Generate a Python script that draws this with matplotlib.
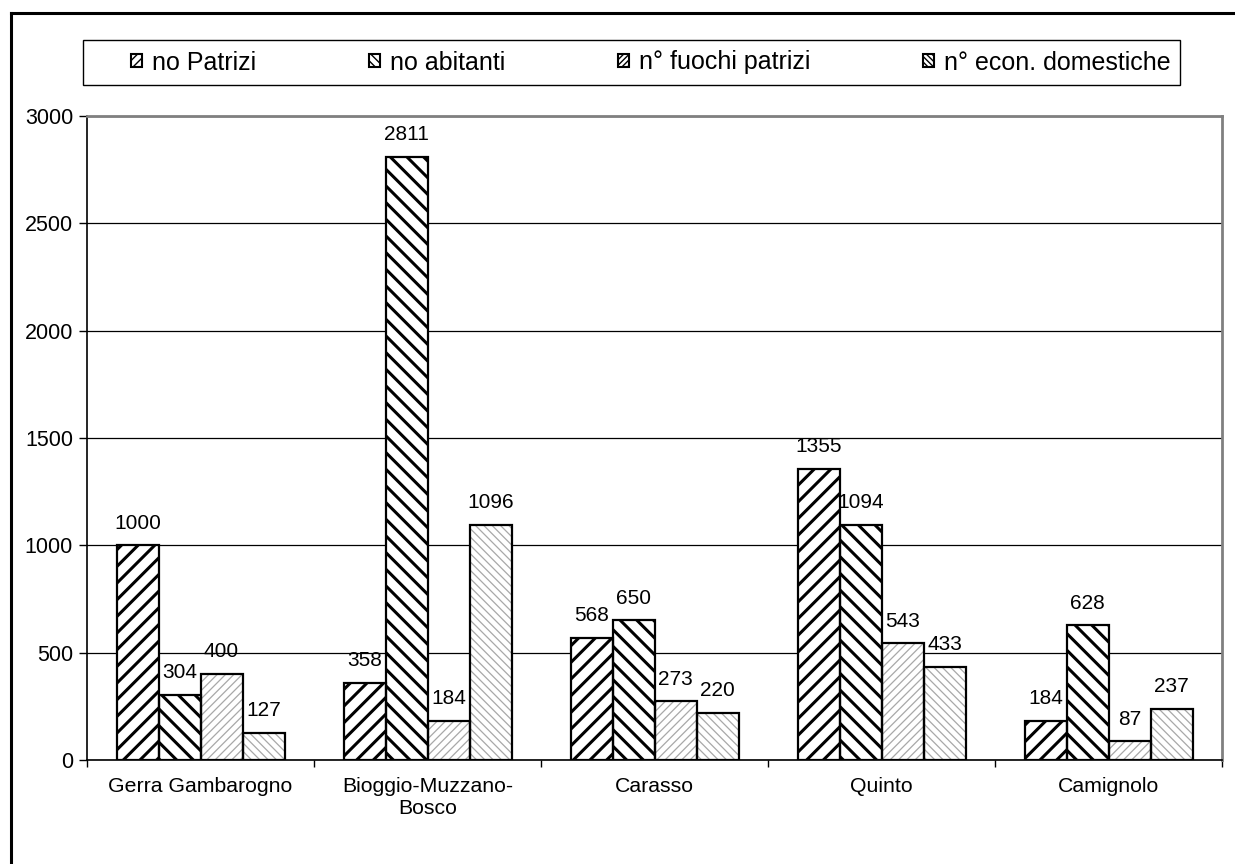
import matplotlib
matplotlib.use("Agg")
import matplotlib.pyplot as plt
import numpy as np
from matplotlib.patches import Rectangle
from matplotlib.lines import Line2D

plt.rcParams['font.family'] = ['Liberation Sans', 'DejaVu Sans']

categories = ["Gerra Gambarogno", "Bioggio-Muzzano-\nBosco", "Carasso", "Quinto", "Camignolo"]
series_names = ["no Patrizi", "no abitanti", "n° fuochi patrizi", "n° econ. domestiche"]
no_patrizi = [1000, 358, 568, 1355, 184]
no_abitanti = [304, 2811, 650, 1094, 628]
fuochi_patrizi = [400, 184, 273, 543, 87]
econ_domestiche = [127, 1096, 220, 433, 237]
yticks = [0, 500, 1000, 1500, 2000, 2500, 3000]

series = [no_patrizi, no_abitanti, fuochi_patrizi, econ_domestiche]
hatches = ["//", "\\\\", "////", "\\\\\\\\"]
hatch_colors = ["black", "black", "#a8a8a8", "#a8a8a8"]
hatch_lw = [2.2, 2.2, 0.9, 0.9]

W, H = 1235, 864
fig = plt.figure(figsize=(W / 100, H / 100), dpi=100)
ax = fig.add_axes([87 / W, 1 - 760 / H, (1222 - 87) / W, (760 - 116) / H])

x = np.arange(len(categories))
bw = 42 / 227.0

for k, vals in enumerate(series):
    off = (k - 1.5) * bw
    with plt.rc_context({'hatch.linewidth': hatch_lw[k], 'hatch.color': hatch_colors[k]}):
        bars = ax.bar(x + off, vals, bw, facecolor='white', edgecolor=hatch_colors[k],
                      hatch=hatches[k], linewidth=0, zorder=3)
        for b in bars:
            if hasattr(b, 'set_hatch_linewidth'):
                b.set_hatch_linewidth(hatch_lw[k])
    ax.bar(x + off, vals, bw, facecolor='none', edgecolor='black', linewidth=1.6, zorder=4)
    for xi, v in zip(x + off, vals):
        ax.annotate(str(v), (xi, v), xytext=(0, 12), textcoords='offset points',
                    ha='center', va='baseline', fontsize=15, zorder=5)

ax.set_xlim(-0.5, len(categories) - 0.5)
ax.set_ylim(0, 3000)
ax.set_yticks(yticks)
ax.set_yticklabels([str(t) for t in yticks], fontsize=15.5)
ax.yaxis.grid(True, color='black', linewidth=0.9, zorder=0)
ax.set_axisbelow(True)

# category ticks at boundaries, labels at centers
ax.set_xticks(np.arange(len(categories) + 1) - 0.5)
ax.set_xticklabels([])
ax.set_xticks(x, minor=True)
ax.set_xticklabels(categories, minor=True, fontsize=15.3)
ax.tick_params(axis='x', which='minor', length=0, pad=12)
ax.tick_params(axis='x', which='major', length=5, width=1, direction='out')
ax.tick_params(axis='y', length=6, width=1, direction='out', pad=4)

for s in ['top', 'right']:
    ax.spines[s].set_color('#808080')
    ax.spines[s].set_linewidth(2)
for s in ['left', 'bottom']:
    ax.spines[s].set_color('black')
    ax.spines[s].set_linewidth(1.2)

# legend
handles = []
leg_hatch = ["////", "\\\\\\\\", "//////", "\\\\\\\\\\\\"]
for k in range(4):
    with plt.rc_context({'hatch.linewidth': hatch_lw[k] * 0.7, 'hatch.color': hatch_colors[k]}):
        p = Rectangle((0, 0), 1, 1, facecolor='white', edgecolor='black', hatch=leg_hatch[k], linewidth=1.5)
        if hasattr(p, 'set_hatch_linewidth'):
            p.set_hatch_linewidth(hatch_lw[k] * 0.7)
    handles.append(p)
fig.add_artist(Rectangle((83 / W, 1 - 85 / H), (1180 - 83) / W, 45 / H, transform=fig.transFigure,
                         fill=False, edgecolor='black', linewidth=1.0))
leg = fig.legend(handles, series_names, loc='center', ncol=4,
                 bbox_to_anchor=(651 / W, 1 - 62.5 / H),
                 fontsize=18, handlelength=0.45, handleheight=0.45, handletextpad=0.4,
                 columnspacing=4.5, borderpad=0.0, borderaxespad=0, frameon=False)

# outer frame (left and top visible)
fig.add_artist(Line2D([10.5 / W, 10.5 / W], [1 - 13 / H, -0.05], transform=fig.transFigure,
                      color='black', linewidth=2.2))
fig.add_artist(Line2D([10.5 / W, 1.05], [1 - 13 / H, 1 - 13 / H], transform=fig.transFigure,
                      color='black', linewidth=2.2))

fig.savefig("out.png", dpi=100)
